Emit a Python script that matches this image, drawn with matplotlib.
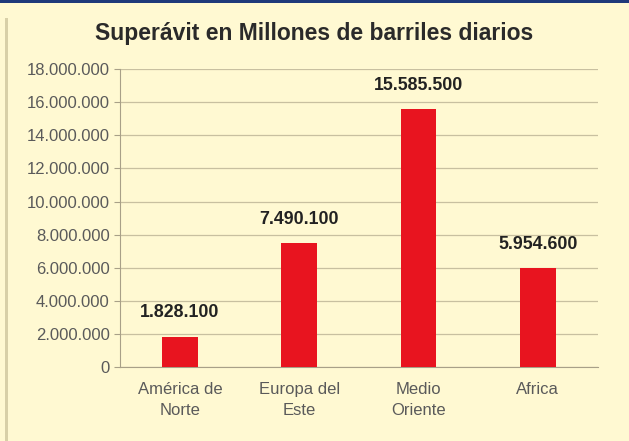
import matplotlib.pyplot as plt
from matplotlib.ticker import FuncFormatter
from matplotlib.patches import Rectangle

regiones = ["América de\nNorte", "Europa del\nEste", "Medio\nOriente", "Africa"]
superavit = [1828100, 7490100, 15585500, 5954600]
y_ticks = list(range(0, 18000001, 2000000))

plt.rcParams['font.family'] = ['Liberation Sans', 'DejaVu Sans']

fondo = '#fff9d2'
fig = plt.figure(figsize=(6.29, 4.41), dpi=100, facecolor=fondo)

# franja azul superior y borde izquierdo del marco
fig.patches.append(Rectangle((0, 0.993), 1, 0.007, transform=fig.transFigure,
                             facecolor='#1f3a7a', edgecolor='none'))
fig.patches.append(Rectangle((0.008, 0), 0.004, 0.96, transform=fig.transFigure,
                             facecolor='#d8d0a8', edgecolor='none'))

ax = fig.add_axes([0.191, 0.168, 0.759, 0.675])
ax.set_facecolor(fondo)

pos = range(len(regiones))
ax.bar(pos, superavit, width=0.3, color='#e8141f', zorder=3)

for x, v in zip(pos, superavit):
    ax.annotate(f"{v:,}".replace(",", "."), (x, v), xytext=(0, 11), textcoords='offset points',
                ha='center', va='bottom', fontsize=12.8, fontweight='bold', color='#222222')

ax.set_ylim(0, 18000000)
ax.set_xlim(-0.5, 3.5)
ax.set_yticks(y_ticks)
ax.yaxis.set_major_formatter(FuncFormatter(lambda v, p: f"{int(v):,}".replace(",", ".")))
ax.set_xticks(list(pos))
ax.set_xticklabels(regiones, linespacing=1.45)
ax.grid(axis='y', color='#c8c0a0', linewidth=0.9, zorder=0)

for s in ['top', 'right']:
    ax.spines[s].set_visible(False)
for s in ['left', 'bottom']:
    ax.spines[s].set_color('#a8a088')
ax.tick_params(axis='y', colors='#a8a088', labelcolor='#5a5a5a', labelsize=12, length=4)
ax.tick_params(axis='x', length=0, labelcolor='#5a5a5a', labelsize=12, pad=11)

fig.text(0.5, 0.925, "Superávit en Millones de barriles diarios", ha='center', va='center',
         fontsize=16.5, fontweight='bold', color='#2a2a2a')

fig.savefig("out.png", dpi=100, facecolor=fondo)
